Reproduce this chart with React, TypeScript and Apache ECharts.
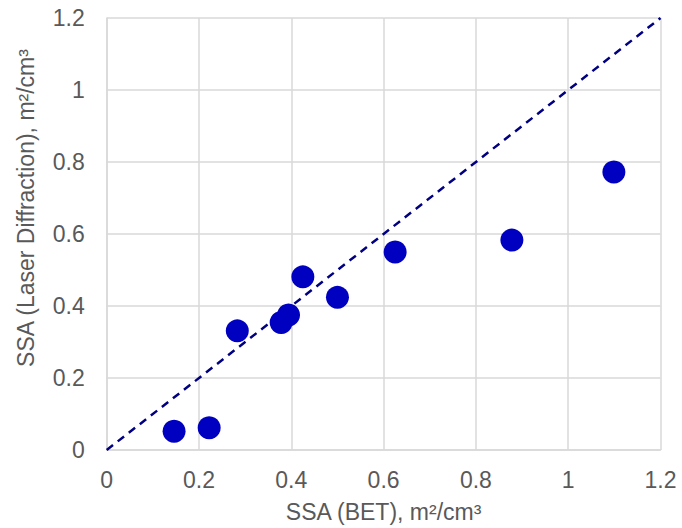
import React, { useEffect, useRef } from "react";
import * as echarts from "echarts";

const betValues = [0.146, 0.222, 0.283, 0.378, 0.394, 0.425, 0.5, 0.625, 0.878, 1.099];
const laserValues = [0.052, 0.062, 0.331, 0.354, 0.375, 0.481, 0.424, 0.55, 0.583, 0.772];
const parityLine = [[0, 0], [1.2, 1.2]];
const xAxisTitle = "SSA (BET), m²/cm³";
const yAxisTitle = "SSA (Laser Diffraction), m²/cm³";

export default function App() {
  const ref = useRef<HTMLDivElement>(null);
  useEffect(() => {
    if (!ref.current) return;
    const chart = echarts.init(ref.current, null, { renderer: "svg" });
    const font = "Liberation Sans, Arial, sans-serif";
    const labelStyle = { color: "#595959", fontSize: 23, fontFamily: font };
    chart.setOption({
      animation: false,
      backgroundColor: "#fff",
      grid: { left: 106.7, right: 21.5, top: 18, bottom: 78, outerBoundsMode: "none", containLabel: false },
      graphic: [
        {
          type: "text",
          x: 26,
          y: 208,
          rotation: Math.PI / 2,
          style: {
            text: yAxisTitle,
            fill: "#595959",
            fontSize: 23,
            fontFamily: font,
            textAlign: "center",
            textVerticalAlign: "middle",
          },
        },
      ],
      xAxis: {
        type: "value",
        min: 0,
        max: 1.2,
        interval: 0.2,
        name: xAxisTitle,
        nameLocation: "middle",
        nameGap: 50,
        nameTextStyle: labelStyle,
        axisLine: { show: true, lineStyle: { color: "#d9d9d9", width: 1.5 } },
        axisTick: { show: false },
        axisLabel: { ...labelStyle, margin: 18, formatter: (v: number) => String(Math.round(v * 10) / 10) },
        splitLine: { show: true, lineStyle: { color: "#d9d9d9", width: 1.5 } },
      },
      yAxis: {
        type: "value",
        min: 0,
        max: 1.2,
        interval: 0.2,
        axisLine: { show: true, lineStyle: { color: "#d9d9d9", width: 1.5 } },
        axisTick: { show: false },
        axisLabel: { ...labelStyle, margin: 22, formatter: (v: number) => String(Math.round(v * 10) / 10) },
        splitLine: { show: true, lineStyle: { color: "#d9d9d9", width: 1.5 } },
      },
      series: [
        {
          type: "line",
          data: parityLine,
          symbol: "none",
          lineStyle: { color: "#000080", width: 2.5, type: [8, 6] },
          z: 3,
        },
        {
          type: "scatter",
          data: betValues.map((x, i) => [x, laserValues[i]]),
          symbol: "circle",
          symbolSize: 23,
          itemStyle: { color: "#0000c0", opacity: 1 },
          z: 4,
        },
      ],
    });
    return () => chart.dispose();
  }, []);
  return <div ref={ref} style={{ position: "absolute", left: 0, top: 0, width: 682, height: 528 }} />;
}
